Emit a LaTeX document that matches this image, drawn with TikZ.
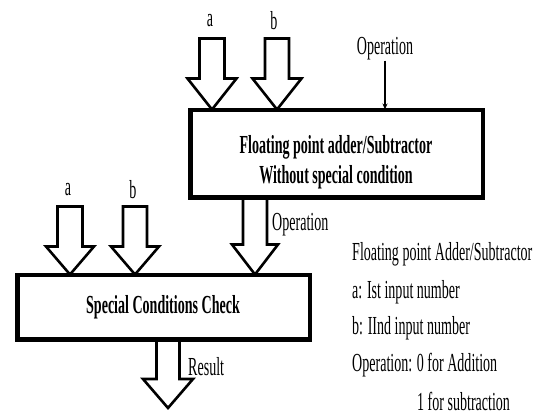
\documentclass[tikz,border=0pt]{standalone}
\usepackage{fontspec}
\setmainfont{Liberation Serif}[FakeStretch=0.54]
\usetikzlibrary{arrows.meta}
\newcommand\barrowclosed[5]{% tip, shaft half, head half, head len, shaft len
  \draw[blockarr] (#1) -- ++(-#3,-#4) -- ++(#3-#2,0) -- ++(0,-#5) -- ++(2*#2,0) -- ++(0,#5) -- ++(#3-#2,0) -- cycle;}
\newcommand\barrowopen[5]{%
  \filldraw[blockarr] (#1) ++(-#2,-#4-#5) -- ++(0,#5) -- ++(#2-#3,0) -- (#1) -- ++(#3,-#4) -- ++(#2-#3,0) -- ++(0,-#5);}
\begin{document}
\begin{tikzpicture}[x=1pt,y=-1pt,
  txt/.style={font=\fontsize{26}{30}\selectfont, inner sep=0pt},
  btxt/.style={font=\fontsize{26}{30}\selectfont\bfseries, inner sep=0pt, align=center},
  box/.style={draw, line width=3pt, fill=white, inner sep=0pt},
  blockarr/.style={draw, fill=white, line width=2.6pt, line join=miter},
  thinarr/.style={line width=1.3pt, -{Stealth[length=6pt,width=5pt]}}]
\useasboundingbox (0,0) rectangle (542,417);
% boxes
\node[box, minimum width=291pt, minimum height=86pt] (fp) at (336.5,154) {};
\node[btxt] (fptxt) at (336,162) {Floating point adder/Subtractor\\Without special condition};
\node[box, minimum width=291pt, minimum height=63pt] (sc) at (163.5,307.5) {};
\node[btxt] (sctxt) at (163,307) {Special Conditions Check};
% tip coordinates
\coordinate (ta) at ([xshift=-124.5pt]fp.north);
\coordinate (tb) at ([xshift=-59.5pt]fp.north);
\coordinate (top) at ([xshift=48.5pt]fp.north);
\coordinate (sa) at ([xshift=-93.5pt]sc.north);
\coordinate (sb) at ([xshift=-28.5pt]sc.north);
\coordinate (sop) at ([xshift=91.5pt]sc.north);
\coordinate (res) at (168,408);
% block arrows
\barrowclosed{ta}{12.5}{24.5}{31}{40}
\barrowclosed{tb}{12}{24.5}{31}{40}
\barrowclosed{sa}{12.5}{24}{28}{40}
\barrowclosed{sb}{12}{24}{28}{40}
\barrowopen{sop}{12}{23}{30}{45}
\barrowopen{res}{11.5}{25}{29}{38}
% redraw box borders over arrow tops
\draw[line width=3pt] (fp.south west) rectangle (fp.north east);
\draw[line width=3pt] (sc.south west) rectangle (sc.north east);
% labels
\node[txt] (la) at (210,21) {a};
\node[txt] (lb) at (274,21) {b};
\node[txt] (lop) at (385,49) {Operation};
\draw[thinarr] (lop.south) -- (top);
\node[txt] (la2) at (68,190) {a};
\node[txt] (lb2) at (133,190) {b};
\node[txt, anchor=west] (lop2) at (272,225) {Operation};
\node[txt, anchor=west] (lres) at (188,367) {Result};
% legend
\node[txt, anchor=west] (g1) at (352,254) {Floating point Adder/Subtractor};
\node[txt, anchor=west] (g2) at (352,292) {a: Ist input number};
\node[txt, anchor=west] (g3) at (352,328) {b: IInd input number};
\node[txt, anchor=west] (g4) at (352,365) {Operation: 0 for Addition};
\node[txt, anchor=west] (g5) at (417,401) {1 for subtraction};
\end{tikzpicture}
\end{document}
